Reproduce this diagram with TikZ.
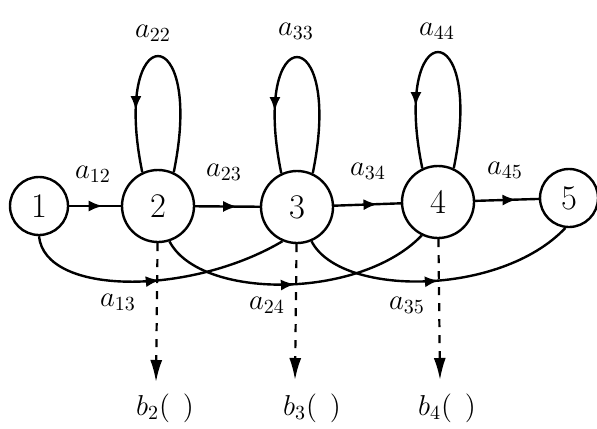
\documentclass[tikz,border=0pt]{standalone}
\usetikzlibrary{arrows.meta,decorations.markings}

\begin{document}
\begin{tikzpicture}[
    x=0.5pt, y=-0.5pt,
    state/.style={circle, draw, line width=1.2pt, minimum size=36pt, inner sep=0pt, font=\LARGE},
    endstate/.style={state, minimum size=29pt},
    trans/.style={line width=1.2pt, decoration={markings, mark=at position #1 with {\arrow{Latex[length=7pt,width=5.5pt]}}}, postaction={decorate}},
    trans/.default=0.65,
    obs/.style={-{Latex[length=11pt,width=6pt]}, line width=1.1pt, dash pattern=on 4pt off 4pt},
    lbl/.style={font=\Large}
]
\useasboundingbox (0,0) rectangle (597,428);

% States
\node[endstate] (s1) at (39,206) {1};
\node[state] (s2) at (158,206) {2};
\node[state] (s3) at (297,207) {3};
\node[state] (s4) at (438,202) {4};
\node[endstate] (s5) at (569,198) {5};

% Self loops
\draw[trans=0.75] (s2.65) .. controls +(32,-155) and +(-32,-155) .. (s2.115);
\draw[trans=0.75] (s3.65) .. controls +(32,-155) and +(-32,-155) .. (s3.115);
\draw[trans=0.75] (s4.65) .. controls +(32,-155) and +(-32,-155) .. (s4.115);

% Forward transitions
\draw[trans] (s1) -- (s2);
\draw[trans] (s2) -- (s3);
\draw[trans] (s3) -- (s4);
\draw[trans] (s4) -- (s5);

% Skip transitions
\draw[trans=0.52] (s1.south) .. controls (45,296) and (190,296) .. (s3.-113);
\draw[trans=0.5] (s2.-72) .. controls (200,300) and (360,300) .. (s4.-116);
\draw[trans=0.5] (s3.-67) .. controls (340,297) and (500,297) .. (s5.-97);

% Transition labels
\node[lbl] (l22) at (153,33) {$a_{22}$};
\node[lbl] (l33) at (296,31) {$a_{33}$};
\node[lbl] (l44) at (437,31) {$a_{44}$};
\node[lbl] (l12) at (93,174) {$a_{12}$};
\node[lbl] (l23) at (224,172) {$a_{23}$};
\node[lbl] (l34) at (368,171) {$a_{34}$};
\node[lbl] (l45) at (505,170) {$a_{45}$};
\node[lbl] (l13) at (118,302) {$a_{13}$};
\node[lbl] (l24) at (267,305) {$a_{24}$};
\node[lbl] (l35) at (407,305) {$a_{35}$};

% Output distributions
\node[lbl] (b2) at (165,408) {$b_2(\;\,)$};
\node[lbl] (b3) at (312,408) {$b_3(\;\,)$};
\node[lbl] (b4) at (447,408) {$b_4(\;\,)$};
\coordinate (o2) at (156,382);
\coordinate (o3) at (295,380);
\coordinate (o4) at (440,380);
\draw[obs] (s2) -- (o2);
\draw[obs] (s3) -- (o3);
\draw[obs] (s4) -- (o4);

\end{tikzpicture}
\end{document}
